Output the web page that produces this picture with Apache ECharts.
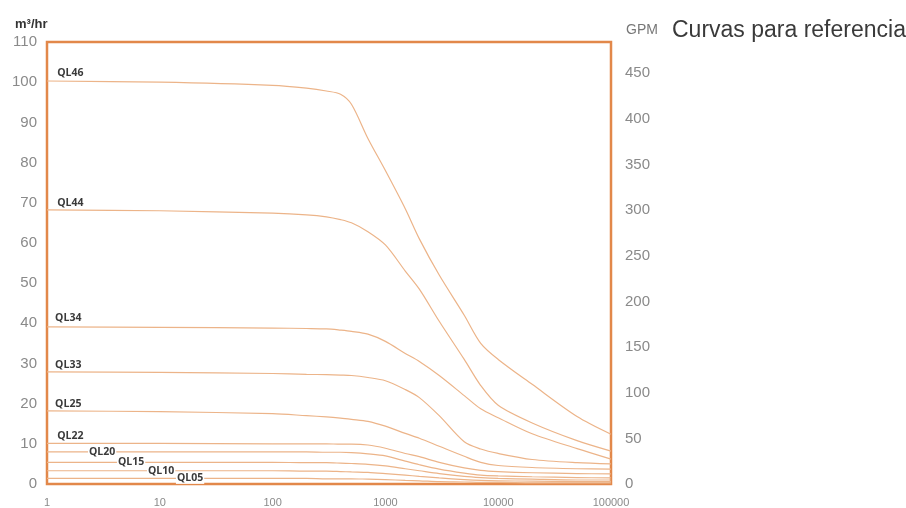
<!DOCTYPE html>
<html>
<head>
<meta charset="utf-8">
<script src="https://cdn.jsdelivr.net/npm/echarts@6/dist/echarts.min.js"></script>
<style>
html,body{margin:0;padding:0;background:#fff;}
#chart{width:906px;height:508px;}
</style>
</head>
<body>
<div id="chart"></div>
<script>
// Flow axis samples (log scale)
const flowX = [1, 10, 100, 200, 300, 400, 500, 700, 1000, 1500, 2000, 3000, 5000, 7000, 10000, 20000, 50000, 100000];

// Curve names
const curveNames = ['QL46', 'QL44', 'QL34', 'QL33', 'QL25', 'QL22', 'QL20', 'QL15', 'QL10', 'QL05'];

// Curve values (m3/hr) at flowX
const QL46 = [100.3, 100, 99.2, 98.5, 97.8, 97, 94.5, 86, 78, 68.5, 61, 52, 42, 35, 31, 24.8, 16.8, 12.4];
const QL44 = [68.2, 68, 67.4, 67, 66.5, 65.8, 65, 62.8, 59.5, 53, 48.5, 40.5, 31, 24.5, 19.6, 15.2, 10.8, 8.2];
const QL34 = [39.1, 39, 38.8, 38.7, 38.6, 38.3, 38, 37.3, 35.5, 32.5, 30.5, 27, 22, 18.7, 16.5, 12.5, 8.8, 6.2];
const QL33 = [27.9, 27.8, 27.5, 27.3, 27.2, 27.1, 27, 26.5, 25.7, 23.5, 21.5, 17, 10.5, 8.7, 7.6, 6.1, 5.3, 5.0];
const QL25 = [18.2, 18, 17.5, 17, 16.7, 16.4, 16.1, 15.6, 14.4, 12.6, 11.4, 9.4, 6.9, 5.4, 4.6, 4.1, 3.8, 3.7];
const QL22 = [10.1, 10.1, 10, 10, 10, 9.9, 9.9, 9.7, 8.9, 7.6, 6.8, 5.4, 4.0, 3.4, 3.1, 2.8, 2.6, 2.5];
const QL20 = [8.0, 8.0, 8.0, 8.0, 7.9, 7.9, 7.8, 7.5, 7.0, 5.7, 4.8, 3.7, 2.7, 2.2, 2.0, 1.8, 1.6, 1.5];
const QL15 = [5.4, 5.4, 5.4, 5.3, 5.3, 5.2, 5.1, 4.9, 4.5, 3.8, 3.3, 2.6, 1.9, 1.6, 1.4, 1.2, 1.0, 1.0];
const QL10 = [3.3, 3.3, 3.3, 3.2, 3.2, 3.1, 3.0, 2.9, 2.6, 2.2, 1.9, 1.5, 1.1, 0.9, 0.8, 0.7, 0.6, 0.6];
const QL05 = [1.4, 1.4, 1.4, 1.4, 1.3, 1.3, 1.3, 1.2, 1.1, 0.9, 0.8, 0.6, 0.5, 0.4, 0.4, 0.3, 0.3, 0.3];

const curveValues = [QL46, QL44, QL34, QL33, QL25, QL22, QL20, QL15, QL10, QL05];

// Left axis (m3/hr) and right axis (GPM) ranges
const m3Max = 110;
const m3Interval = 10;
const gpmPerM3 = 4.403;
const gpmInterval = 50;

// Curve label anchors (flow value where label starts) and vertical offsets
const labelFlow = [1.23, 1.23, 1.18, 1.18, 1.18, 1.23, 2.31, 4.17, 7.7, 13.9];
const labelDy = [-8, -7, -9, -7, -7, -7, 0, 0, 0, 0];
const labelInline = [false, false, false, false, false, false, true, true, true, true];

const lineColor = '#ecb489';
const frameColor = '#e2884a';

const series = curveNames.map((name, i) => ({
  name: name,
  type: 'line',
  xAxisIndex: 0,
  yAxisIndex: 0,
  data: flowX.map((x, j) => [x, curveValues[i][j]]),
  showSymbol: false,
  symbol: 'none',
  smooth: 0.3,
  lineStyle: { color: lineColor, width: 1.2 },
  silent: true,
  z: 2,
  markPoint: {
    symbol: 'circle',
    symbolSize: 0,
    silent: true,
    z: 5,
    label: {
      show: true,
      position: 'right',
      distance: 0,
      offset: [0, labelDy[i]],
      formatter: name,
      color: '#3a3a3a',
      fontFamily: 'Open Sans',
      fontWeight: 'bold',
      fontSize: 10.5,
      backgroundColor: labelInline[i] ? '#fff' : 'transparent',
      padding: labelInline[i] ? [0, 1] : 0
    },
    data: [{ coord: [labelFlow[i], curveValues[i][0]] }]
  }
}));

// empty series bound to the right (GPM) axis
series.push({
  type: 'line',
  xAxisIndex: 0,
  yAxisIndex: 1,
  data: [],
  silent: true
});

const chart = echarts.init(document.getElementById('chart'), null, { renderer: 'canvas' });
chart.setOption({
  animation: false,
  backgroundColor: '#fff',
  title: [
    {
      text: 'Curvas para referencia',
      left: 667, top: 14,
      textStyle: { fontFamily: 'Liberation Sans', fontSize: 23, fontWeight: 'normal', color: '#3a3a3a' }
    },
    {
      text: 'GPM',
      left: 621, top: 18,
      textStyle: { fontFamily: 'Liberation Sans', fontSize: 14, fontWeight: 'normal', color: '#777' }
    },
    {
      text: 'm³/hr',
      left: 10, top: 13,
      textStyle: { fontFamily: 'Liberation Sans', fontSize: 13, fontWeight: 'bold', color: '#333' }
    }
  ],
  grid: {
    left: 47, right: 295, top: 42, bottom: 24,
    show: true,
    borderColor: frameColor,
    borderWidth: 2.5,
    backgroundColor: 'transparent',
    containLabel: false
  },
  xAxis: {
    type: 'log',
    logBase: 10,
    min: 1,
    max: 100000,
    axisLine: { show: false },
    axisTick: { show: false },
    splitLine: { show: false },
    minorTick: { show: false },
    axisLabel: {
      margin: 13,
      fontFamily: 'Liberation Sans',
      fontSize: 11,
      color: '#8a8a8a',
      formatter: v => String(Math.round(v))
    }
  },
  yAxis: [
    {
      type: 'value',
      min: 0,
      max: m3Max,
      interval: m3Interval,
      position: 'left',
      axisLine: { show: false },
      axisTick: { show: false },
      splitLine: { show: false },
      axisLabel: {
        margin: 10,
        fontFamily: 'Liberation Sans',
        fontSize: 15,
        color: '#8a8a8a'
      }
    },
    {
      type: 'value',
      min: 0,
      max: m3Max * gpmPerM3,
      interval: gpmInterval,
      position: 'right',
      axisLine: { show: false },
      axisTick: { show: false },
      splitLine: { show: false },
      axisLabel: {
        margin: 14,
        fontFamily: 'Liberation Sans',
        fontSize: 15,
        color: '#8a8a8a',
        formatter: v => (Math.abs(v % gpmInterval) < 1e-6 ? String(v) : '')
      }
    }
  ],
  series: series
});
</script>
</body>
</html>
